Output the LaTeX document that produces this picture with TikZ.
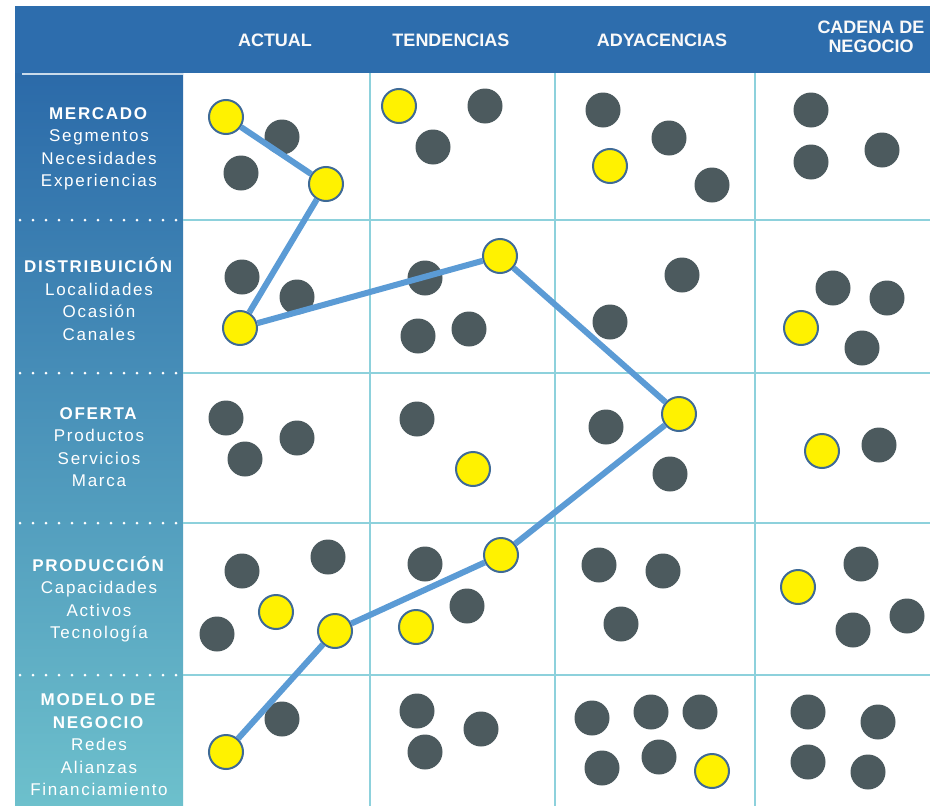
\documentclass[tikz,border=0pt]{standalone}
\usepackage{fontspec}
\setmainfont{Liberation Sans}
\newfontfamily\sidefont[LetterSpace=10]{Liberation Sans}
\usepackage{xcolor}
\usepackage{tikz}

\definecolor{hdrblue}{HTML}{2D6DAD}
\definecolor{coltop}{HTML}{2B6AA9}
\definecolor{colbot}{HTML}{6DC0CC}
\definecolor{gridteal}{HTML}{8DD1DC}
\definecolor{pathblue}{HTML}{5B9BD5}
\definecolor{dotgray}{HTML}{4C5A5E}
\definecolor{rimblue}{HTML}{3E6A96}

\begin{document}
\begin{tikzpicture}[x=1pt,y=-1pt,
    gdot/.style={circle,fill=dotgray,minimum size=35pt,inner sep=0pt},
    ydot/.style={circle,fill=yellow,draw=rimblue,line width=2pt,minimum size=34pt,inner sep=0pt},
    hdrtext/.style={text=white!95!gray,font=\bfseries\fontsize{18}{19}\selectfont,align=center},
    sidetext/.style={text=white,font=\sidefont\fontsize{17}{22.5}\selectfont,align=center},
    gridline/.style={gridteal,line width=2pt}]
    \useasboundingbox[fill=white] (0,0) rectangle (930,806);
    % header band and left column
    \fill[hdrblue] (15,6) rectangle (930,73);
    \shade[top color=coltop,bottom color=colbot] (15,73) rectangle (183,806);
    \draw[white!75!hdrblue,line width=1.5pt] (22,74) -- (183,74);
    % grid
    \foreach \x in {370,555,755} \draw[gridline] (\x,73) -- (\x,806);
    \foreach \y in {220,373,523,675} {
        \draw[gridline] (183,\y) -- (930,\y);
        \draw[white,line width=3pt,dash pattern=on 0pt off 13pt,line cap=round] (20,\y) -- (183,\y);
    }
    % column titles
    \node[hdrtext] (actual) at (275,40) {ACTUAL};
    \node[hdrtext] (tend) at (451,40) {TENDENCIAS};
    \node[hdrtext] (adya) at (662,40) {ADYACENCIAS};
    \node[hdrtext] (cadena) at (871,37) {CADENA DE\\NEGOCIO};
    % row titles
    \node[sidetext] (mercado) at (99,149) {\textbf{MERCADO}\\Segmentos\\Necesidades\\Experiencias};
    \node[sidetext] (distrib) at (99,299) {\textbf{DISTRIBUICIÓN}\\Localidades\\Ocasión\\Canales};
    \node[sidetext] (oferta) at (99,447) {\textbf{OFERTA}\\Productos\\Servicios\\Marca};
    \node[sidetext] (produc) at (99,599) {\textbf{PRODUCCIÓN}\\Capacidades\\Activos\\Tecnología};
    \node[sidetext] (modelo) at (99,745) {\textbf{MODELO DE}\\\textbf{NEGOCIO}\\Redes\\Alianzas\\Financiamiento};
    % gray dots
    \foreach \x/\y [count=\i] in {282/137,241/173,485/106,433/147,603/110,669/138,712/185,811/110,882/150,811/162,
        242/277,297/297,425/278,418/336,469/329,682/275,610/322,833/288,887/298,862/348,
        226/418,297/438,245/459,417/419,606/427,670/474,879/445,
        242/571,328/557,217/634,425/564,467/606,599/565,663/571,621/624,861/564,907/616,853/630,
        282/719,417/711,481/729,425/752,592/718,651/712,700/712,602/768,659/757,808/712,878/722,808/762,868/772}
        \node[gdot] (g\i) at (\x,\y) {};
    % yellow dots off the route
    \foreach \x/\y [count=\i] in {399/106,610/166,801/328,473/469,822/451,276/612,416/627,798/587,712/771}
        \node[ydot] (o\i) at (\x,\y) {};
    % yellow dots on the route
    \node[ydot] (y1) at (226,117) {};
    \node[ydot] (y2) at (326,184) {};
    \node[ydot] (y3) at (240,328) {};
    \node[ydot] (y4) at (500,256) {};
    \node[ydot] (y5) at (679,414) {};
    \node[ydot] (y6) at (501,555) {};
    \node[ydot] (y7) at (335,631) {};
    \node[ydot] (y8) at (226,752) {};
    \draw[pathblue,line width=6pt] (y1) -- (y2) -- (y3) -- (y4) -- (y5) -- (y6) -- (y7) -- (y8);
\end{tikzpicture}
\end{document}
